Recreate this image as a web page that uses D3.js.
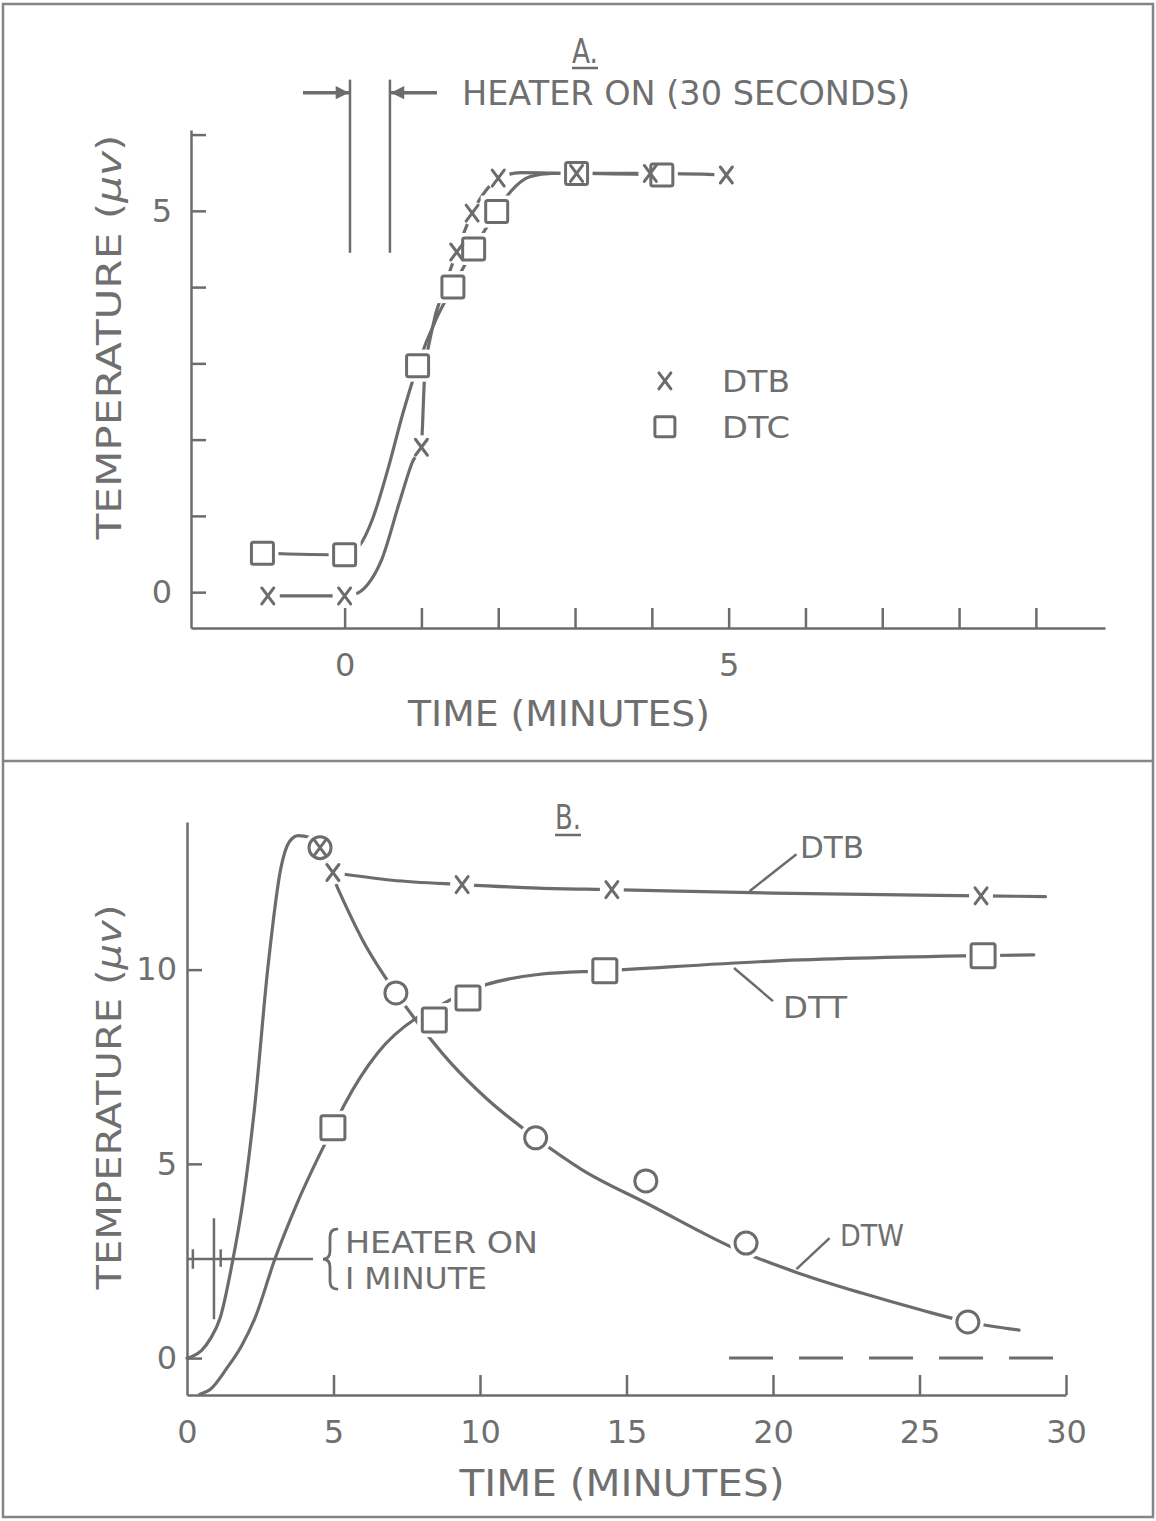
<!DOCTYPE html>
<html>
<head>
<meta charset="utf-8">
<script src="https://cdn.jsdelivr.net/npm/d3@7"></script>
<style>
  body { margin: 0; background: #fff; }
  svg text { font-family: "DejaVu Sans", sans-serif; fill: #6f6f6f; }
</style>
</head>
<body>
<script>
const width = 1156;
const height = 1521;
const ink = "#6c6c6c";

// ---- panel A data (time in minutes, temperature in microvolts) ----
const aTicksX = [0, 1, 2, 3, 4, 5, 6, 7, 8, 9];
const aTicksY = [0, 1, 2, 3, 4, 5, 6];
const aLabelsX = [0, 5];
const aLabelsY = [0, 5];
const aDtbPts = [[-1, -0.05], [0, -0.05], [1.0, 1.9], [1.46, 4.46], [1.66, 4.97], [2.0, 5.43], [3.02, 5.49], [3.98, 5.49], [4.97, 5.47]];
const aDtcPts = [[-1.07, 0.51], [0, 0.49], [0.95, 2.97], [1.41, 4.0], [1.68, 4.5], [1.98, 4.99], [3.02, 5.49], [4.13, 5.47]];
const aDtbCurve = [[-1, -0.05], [0, -0.05], [0.13, -0.03], [0.3, 0.1], [0.48, 0.42], [0.72, 1.2], [0.88, 1.7], [1.0, 1.95], [1.04, 2.8], [1.14, 3.45], [1.3, 4.0], [1.46, 4.46], [1.66, 4.97], [1.85, 5.28], [2.05, 5.45], [2.3, 5.5], [3.02, 5.49], [3.98, 5.49], [4.97, 5.47]];
const aDtcCurve = [[-1.07, 0.51], [0, 0.49], [0.2, 0.62], [0.36, 0.95], [0.56, 1.6], [0.76, 2.35], [0.95, 2.97], [1.2, 3.6], [1.41, 4.0], [1.68, 4.5], [1.98, 4.99], [2.16, 5.25], [2.42, 5.45], [2.7, 5.49], [3.02, 5.49], [4.13, 5.47]];
const aHeater = [0.07, 0.59];
const aLegend = [{ name: "DTB", t: 4.17, v: 2.77 }, { name: "DTC", t: 4.17, v: 2.17 }];

// ---- panel B data ----
const bTicksX = [5, 10, 15, 20, 25, 30];
const bLabelsX = [0, 5, 10, 15, 20, 25, 30];
const bTicksY = [0, 5, 10];
const bDtbPts = [[4.54, 13.14], [4.98, 12.5], [9.39, 12.19], [14.5, 12.06], [27.1, 11.9]];
const bDtbCurve = [[4.98, 12.5], [7, 12.3], [9.39, 12.19], [12, 12.1], [14.5, 12.06], [20, 11.97], [27.1, 11.9], [29.3, 11.88]];
const bDttPts = [[4.98, 5.93], [8.44, 8.7], [9.59, 9.27], [14.26, 9.97], [27.17, 10.36]];
const bDttCurve = [[0.44, -0.93], [0.8, -0.8], [1.36, -0.26], [1.85, 0.3], [2.32, 1.03], [3.0, 2.55], [3.79, 4.04], [4.98, 5.93], [5.39, 6.55], [6.5, 7.85], [7.78, 8.73], [8.44, 9.0], [9.6, 9.45], [12.05, 9.88], [14.26, 9.97], [20, 10.22], [27.17, 10.36], [28.9, 10.38]];
const bDtwPts = [[4.54, 13.14], [7.13, 9.4], [11.9, 5.67], [15.66, 4.56], [19.08, 2.96], [26.65, 0.93]];
const bDtwCurve = [[0, 0], [0.2, 0.05], [0.5, 0.2], [0.8, 0.5], [1.13, 1.03], [1.57, 2.55], [1.91, 4.04], [2.3, 6.4], [2.76, 10.05], [3.2, 12.6], [3.5, 13.3], [3.8, 13.45], [4.2, 13.4], [4.54, 13.14], [5.2, 12.0], [6, 10.75], [7.13, 9.4], [7.78, 8.73], [9.0, 7.6], [10.24, 6.67], [11.9, 5.67], [13.5, 4.84], [15.7, 3.98], [18.9, 2.75], [20.9, 2.18], [23, 1.68], [25, 1.25], [26.65, 0.93], [28.4, 0.72]];
const bBaseline = [18.5, 30.2];
const bLabels = [
    { name: "DTB", from: [19.2, 12.02], to: [20.8, 12.97], tx: 800, ty: 847 },
    { name: "DTT", from: [18.67, 10.04], to: [20.0, 9.19], tx: 783, ty: 1007 },
    { name: "DTW", from: [20.8, 2.29], to: [21.93, 3.09], tx: 840, ty: 1235 }
];

const svg = d3.select("body").append("svg")
    .attr("width", width)
    .attr("height", height);

// frame
svg.append("rect").attr("x", 3).attr("y", 4).attr("width", 1150).attr("height", 1513)
    .attr("fill", "none").attr("stroke", "#858585").attr("stroke-width", 2.5);
svg.append("line").attr("x1", 3).attr("x2", 1153).attr("y1", 761).attr("y2", 761)
    .attr("stroke", "#858585").attr("stroke-width", 2.5);

// scales
const xA = d3.scaleLinear().domain([-2, 9.9]).range([191, 1105]);
const yA = d3.scaleLinear().domain([-0.47, 6.06]).range([628, 130]);
const xB = d3.scaleLinear().domain([0, 30]).range([187, 1066]);
const yB = d3.scaleLinear().domain([-0.95, 13.8]).range([1395, 822]);

function styleAxis(g) {
    g.selectAll("path, line").attr("stroke", ink).attr("stroke-width", 2.5);
    g.selectAll("text").attr("font-size", 32).attr("fill", "#6f6f6f")
        .attr("font-family", "DejaVu Sans, sans-serif");
}

function txt(x, y, s, size, opts = {}) {
    const t = svg.append("text").attr("x", x).attr("y", y).attr("font-size", size).text(s);
    if (opts.anchor) t.attr("text-anchor", opts.anchor);
    if (opts.len) t.attr("textLength", opts.len).attr("lengthAdjust", "spacingAndGlyphs");
    if (opts.base) t.attr("dominant-baseline", opts.base);
    return t;
}

function line(pts, x, y) {
    return d3.line().x(d => x(d[0])).y(d => y(d[1])).curve(d3.curveMonotoneX)(pts);
}
const curveStyle = p => p.attr("fill", "none").attr("stroke", ink)
    .attr("stroke-width", 3.2).attr("stroke-linecap", "round");

// markers (white knock-outs give the gaps in the lines)
function knockX(g, pts, x, y) {
    g.selectAll(null).data(pts).enter().append("circle")
        .attr("cx", d => x(d[0])).attr("cy", d => y(d[1])).attr("r", 12).attr("fill", "#fff");
}
function knockBox(g, pts, x, y, s) {
    g.selectAll(null).data(pts).enter().append("rect")
        .attr("x", d => x(d[0]) - s / 2 - 5).attr("y", d => y(d[1]) - s / 2 - 5)
        .attr("width", s + 10).attr("height", s + 10).attr("fill", "#fff");
}
function knockCircle(g, pts, x, y, r) {
    g.selectAll(null).data(pts).enter().append("circle")
        .attr("cx", d => x(d[0])).attr("cy", d => y(d[1])).attr("r", r + 5).attr("fill", "#fff");
}
function drawX(g, pts, x, y) {
    g.selectAll(null).data(pts).enter().append("path")
        .attr("d", d => {
            const cx = x(d[0]), cy = y(d[1]);
            return `M${cx - 6},${cy - 8}L${cx + 6},${cy + 8}M${cx + 6},${cy - 8}L${cx - 6},${cy + 8}`;
        })
        .attr("stroke", ink).attr("stroke-width", 3).attr("stroke-linecap", "round").attr("fill", "none");
}
function drawBox(g, pts, x, y, s) {
    g.selectAll(null).data(pts).enter().append("rect")
        .attr("x", d => x(d[0]) - s / 2).attr("y", d => y(d[1]) - s / 2)
        .attr("width", s).attr("height", s).attr("rx", 2)
        .attr("fill", "none").attr("stroke", ink).attr("stroke-width", 3);
}
function drawCircle(g, pts, x, y, r) {
    g.selectAll(null).data(pts).enter().append("circle")
        .attr("cx", d => x(d[0])).attr("cy", d => y(d[1])).attr("r", r)
        .attr("fill", "none").attr("stroke", ink).attr("stroke-width", 3);
}

function yLabel(cx, cy, len) {
    const t = svg.append("text").attr("transform", `translate(${cx},${cy}) rotate(-90)`)
        .attr("text-anchor", "middle").attr("dominant-baseline", "central").attr("font-size", 33)
        .attr("textLength", len).attr("lengthAdjust", "spacingAndGlyphs");
    t.append("tspan").text("TEMPERATURE (");
    t.append("tspan").attr("font-style", "italic").text("μv");
    t.append("tspan").text(")");
}

// ================= PANEL A =================
const gA = svg.append("g");

gA.append("g").attr("transform", "translate(0,628)")
    .call(d3.axisBottom(xA).tickValues(aTicksX).tickSizeInner(-20).tickSizeOuter(0).tickPadding(25)
        .tickFormat(d => aLabelsX.includes(d) ? d : ""))
    .call(styleAxis);
gA.append("g").attr("transform", "translate(191,0)")
    .call(d3.axisLeft(yA).tickValues(aTicksY).tickSizeInner(-15).tickSizeOuter(0).tickPadding(19)
        .tickFormat(d => aLabelsY.includes(d) ? d : ""))
    .call(styleAxis);

gA.append("path").attr("d", line(aDtcCurve, xA, yA)).call(curveStyle);
gA.append("path").attr("d", line(aDtbCurve, xA, yA)).call(curveStyle);

knockX(gA, aDtbPts, xA, yA);
knockBox(gA, aDtcPts, xA, yA, 22);
drawBox(gA, aDtcPts, xA, yA, 22);
drawX(gA, aDtbPts, xA, yA);

// heater (30 s) markers
gA.selectAll(null).data(aHeater).enter().append("line")
    .attr("x1", d => xA(d)).attr("x2", d => xA(d))
    .attr("y1", yA(6.72)).attr("y2", yA(4.45))
    .attr("stroke", ink).attr("stroke-width", 2.5);
const arrowY = yA(6.55);
const defs = svg.append("defs");
defs.append("marker").attr("id", "arr").attr("viewBox", "0 0 10 10").attr("refX", 10).attr("refY", 5)
    .attr("markerWidth", 4.5).attr("markerHeight", 3.8).attr("orient", "auto")
    .attr("markerUnits", "strokeWidth")
    .append("path").attr("d", "M0,0L10,5L0,10Z").attr("fill", ink);
gA.append("line").attr("x1", xA(aHeater[0]) - 47).attr("x2", xA(aHeater[0]) - 1)
    .attr("y1", arrowY).attr("y2", arrowY).attr("stroke", ink).attr("stroke-width", 3.5)
    .attr("marker-end", "url(#arr)");
gA.append("line").attr("x1", xA(aHeater[1]) + 47).attr("x2", xA(aHeater[1]) + 1)
    .attr("y1", arrowY).attr("y2", arrowY).attr("stroke", ink).attr("stroke-width", 3.5)
    .attr("marker-end", "url(#arr)");
txt(462, 105, "HEATER ON (30 SECONDS)", 34, { len: 448 });

// legend A
drawX(gA, [[aLegend[0].t, aLegend[0].v]], xA, yA);
drawBox(gA, [[aLegend[1].t, aLegend[1].v]], xA, yA, 20);
aLegend.forEach(d => txt(722, yA(d.v), d.name, 31, { base: "central", len: 68 }));

// titles A
txt(585, 63, "A.", 33, { anchor: "middle", len: 26 });
svg.append("line").attr("x1", 572).attr("x2", 598).attr("y1", 68).attr("y2", 68)
    .attr("stroke", ink).attr("stroke-width", 2.5);
txt(559, 726, "TIME (MINUTES)", 36, { anchor: "middle", len: 302 });
yLabel(109, 337, 405);

// ================= PANEL B =================
const gB = svg.append("g");

gB.append("g").attr("transform", "translate(0,1395)")
    .call(d3.axisBottom(xB).tickValues(bLabelsX).tickSizeInner(-20).tickSizeOuter(0).tickPadding(25))
    .call(styleAxis)
    .call(g => g.selectAll(".tick line").filter(d => !bTicksX.includes(d)).remove());
gB.append("g").attr("transform", "translate(187,0)")
    .call(d3.axisLeft(yB).tickValues(bTicksY).tickSizeInner(-15).tickSizeOuter(0).tickPadding(10))
    .call(styleAxis);

gB.append("path").attr("d", line(bDtwCurve, xB, yB)).call(curveStyle);
gB.append("path").attr("d", line(bDttCurve, xB, yB)).call(curveStyle);
gB.append("path").attr("d", line(bDtbCurve, xB, yB)).call(curveStyle);

// dashed zero line
gB.append("line").attr("x1", xB(bBaseline[0])).attr("x2", xB(bBaseline[1]))
    .attr("y1", yB(0)).attr("y2", yB(0))
    .attr("stroke", ink).attr("stroke-width", 3).attr("stroke-dasharray", "44 26");

knockCircle(gB, bDtwPts, xB, yB, 11);
knockBox(gB, bDttPts, xB, yB, 24);
knockX(gB, bDtbPts.slice(1), xB, yB);
drawCircle(gB, bDtwPts, xB, yB, 11);
drawBox(gB, bDttPts, xB, yB, 24);
drawX(gB, bDtbPts, xB, yB);

// heater on 1 minute
gB.append("line").attr("x1", xB(0)).attr("x2", xB(4.3)).attr("y1", yB(2.55)).attr("y2", yB(2.55))
    .attr("stroke", ink).attr("stroke-width", 2.5);
gB.append("line").attr("x1", xB(0.92)).attr("x2", xB(0.92)).attr("y1", yB(3.6)).attr("y2", yB(1.0))
    .attr("stroke", ink).attr("stroke-width", 2.5);
gB.append("line").attr("x1", xB(0.2)).attr("x2", xB(0.2)).attr("y1", yB(2.8)).attr("y2", yB(2.3))
    .attr("stroke", ink).attr("stroke-width", 2.5);
gB.append("line").attr("x1", xB(1.15)).attr("x2", xB(1.15)).attr("y1", yB(2.8)).attr("y2", yB(2.35))
    .attr("stroke", ink).attr("stroke-width", 2.5);
// brace
const bx = 337, by = yB(2.55);
svg.append("path")
    .attr("d", `M${bx},${by - 30} q-7,0 -7,8 v14 q0,8 -7,8 q7,0 7,8 v14 q0,8 7,8`)
    .attr("fill", "none").attr("stroke", ink).attr("stroke-width", 2.8).attr("stroke-linecap", "round");
txt(345, 1253, "HEATER ON", 31, { len: 193 });
txt(345, 1289, "I MINUTE", 31, { len: 142 });

// curve labels B
gB.selectAll(null).data(bLabels).enter().append("line")
    .attr("x1", d => xB(d.from[0])).attr("y1", d => yB(d.from[1]))
    .attr("x2", d => xB(d.to[0])).attr("y2", d => yB(d.to[1]))
    .attr("stroke", ink).attr("stroke-width", 2.5);
bLabels.forEach(d => txt(d.tx, d.ty, d.name, 31, { base: "central", len: 64 }));

// titles B
txt(568, 829, "B.", 33, { anchor: "middle", len: 26 });
svg.append("line").attr("x1", 555).attr("x2", 581).attr("y1", 835).attr("y2", 835)
    .attr("stroke", ink).attr("stroke-width", 2.5);
txt(622, 1496, "TIME (MINUTES)", 37, { anchor: "middle", len: 325 });
yLabel(109, 1097, 385);
</script>
</body>
</html>
